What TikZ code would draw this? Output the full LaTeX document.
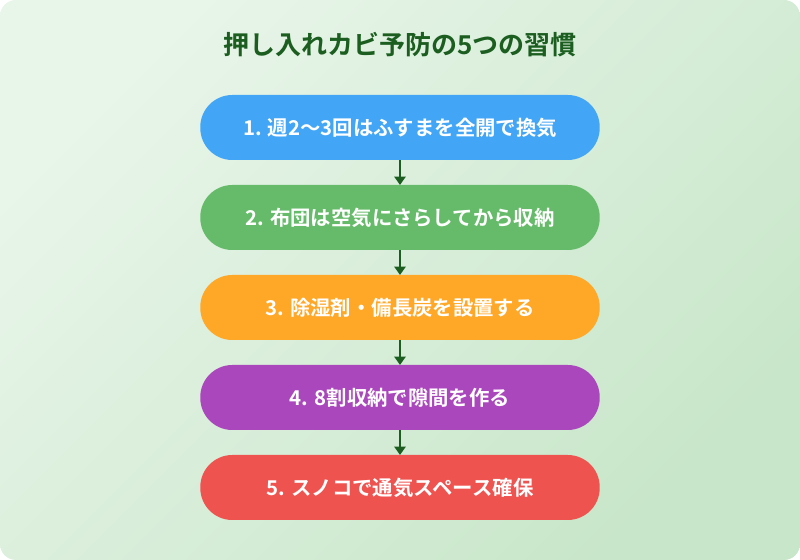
\documentclass[tikz,border=0pt]{standalone}
\usepackage{fontspec}
\setmainfont{Noto Sans CJK JP}[BoldFont={Noto Sans CJK JP Bold}]
\usetikzlibrary{positioning,arrows.meta}
\definecolor{bgA}{HTML}{E8F5E9}
\definecolor{bgB}{HTML}{C8E6C9}
\definecolor{titlegreen}{HTML}{1B5E20}
\definecolor{stepblue}{HTML}{42A5F5}
\definecolor{stepgreen}{HTML}{66BB6A}
\definecolor{steporange}{HTML}{FFA726}
\definecolor{steppurple}{HTML}{AB47BC}
\definecolor{stepred}{HTML}{EF5350}
\begin{document}
\begin{tikzpicture}[every node/.style={outer sep=0pt},
  habit/.style={rounded corners=0.8cm, minimum width=10cm-\pgflinewidth, minimum height=1.625cm,
    text=white, font=\fontsize{14.5}{16}\selectfont\bfseries},
  flow/.style={-{Triangle[length=6pt,width=8pt]}, titlegreen, line width=1.5pt},
  node distance=0.625cm]
\shade[top color=bgA, bottom color=bgB, shading angle=45, rounded corners=0.4cm] (0,0) rectangle (20,14);
\node[text=titlegreen, font=\fontsize{18.5}{20}\selectfont\bfseries] (title) at (10,12.875) {押し入れカビ予防の5つの習慣};
\node[habit, fill=stepblue] (s1) at (10,10.8125) {1. 週2〜3回はふすまを全開で換気};
\node[habit, fill=stepgreen, below=of s1] (s2) {2. 布団は空気にさらしてから収納};
\node[habit, fill=steporange, below=of s2] (s3) {3. 除湿剤・備長炭を設置する};
\node[habit, fill=steppurple, below=of s3] (s4) {4. 8割収納で隙間を作る};
\node[habit, fill=stepred, below=of s4] (s5) {5. スノコで通気スペース確保};
\foreach \a/\b in {s1/s2,s2/s3,s3/s4,s4/s5}
  \draw[flow] (\a) -- (\b);
\end{tikzpicture}
\end{document}
